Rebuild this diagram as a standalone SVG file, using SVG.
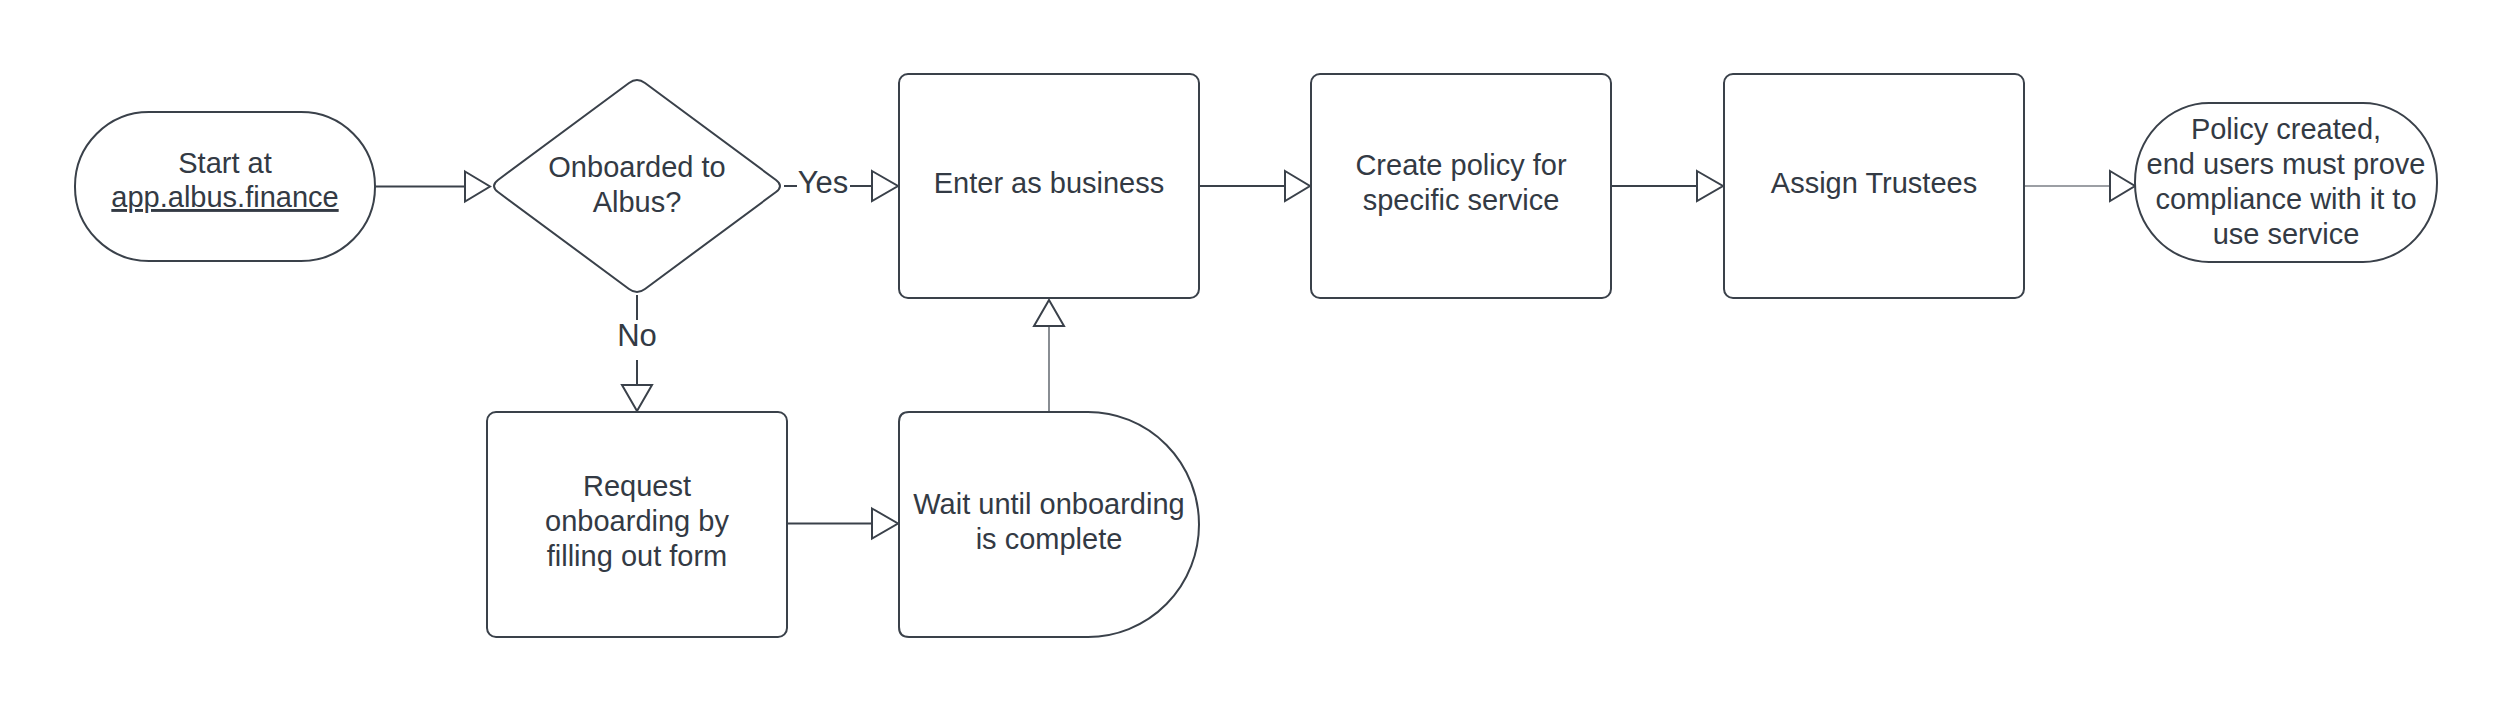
<svg xmlns="http://www.w3.org/2000/svg" width="2513" height="713" viewBox="0 0 2513 713">
  <style>
    .node { fill: #ffffff; stroke: #3a414a; stroke-width: 2; }
    .t { font-family: "Liberation Sans", Arial, sans-serif; font-size: 29px; fill: #333a44; text-anchor: middle; }
    .lbl { font-family: "Liberation Sans", Arial, sans-serif; font-size: 31px; fill: #333a44; text-anchor: middle; }
    .c { fill: none; stroke: #3a414a; stroke-width: 2; }
    .thin { fill: none; stroke: #3a414a; stroke-width: 1.2; }
    .ah { fill: #ffffff; stroke: #3a414a; stroke-width: 2; stroke-linejoin: miter; }
  </style>
  <rect width="2513" height="713" fill="#ffffff"/>

  <g id="connectors">
    <!-- start -> decision -->
    <line class="c" x1="375" y1="186.5" x2="465" y2="186.5"/>
    <polygon class="ah" points="465,171.5 490,186.5 465,201.5"/>
    <!-- decision -> enter (Yes) -->
    <line class="c" x1="784" y1="186" x2="797" y2="186"/>
    <text class="lbl" x="823" y="193">Yes</text>
    <line class="c" x1="850" y1="186" x2="872" y2="186"/>
    <polygon class="ah" points="872,171 898,186 872,201"/>
    <!-- decision -> request (No) -->
    <line class="c" x1="637" y1="295" x2="637" y2="320"/>
    <text class="lbl" x="637" y="346">No</text>
    <line class="c" x1="637" y1="360" x2="637" y2="385"/>
    <polygon class="ah" points="622,385 637,411 652,385"/>
    <!-- request -> wait -->
    <line class="c" x1="787" y1="523.5" x2="872" y2="523.5"/>
    <polygon class="ah" points="872,508.5 898,523.5 872,538.5"/>
    <!-- wait -> enter -->
    <line class="thin" x1="1049" y1="412" x2="1049" y2="326"/>
    <polygon class="ah" points="1034,326 1049,300 1064,326"/>
    <!-- enter -> create -->
    <line class="c" x1="1199" y1="186" x2="1285" y2="186"/>
    <polygon class="ah" points="1285,171 1310,186 1285,201"/>
    <!-- create -> assign -->
    <line class="c" x1="1611" y1="186" x2="1697" y2="186"/>
    <polygon class="ah" points="1697,171 1723,186 1697,201"/>
    <!-- assign -> end -->
    <line class="thin" x1="2024" y1="186" x2="2110" y2="186"/>
    <polygon class="ah" points="2110,171 2135,186 2110,201"/>
  </g>

  <g id="start">
    <rect class="node" x="75" y="112" width="300" height="149" rx="74" ry="74"/>
    <text class="t" x="225" y="173">Start at</text>
    <text class="t" x="225" y="207" text-decoration="underline">app.albus.finance</text>
  </g>

  <g id="decision">
    <path class="node" d="M 498,180 L 629,83 Q 637,77 645,83 L 776,180 Q 784,186 776,192 L 645,289 Q 637,295 629,289 L 498,192 Q 490,186 498,180 Z"/>
    <text class="t" x="637" y="177">Onboarded to</text>
    <text class="t" x="637" y="212">Albus?</text>
  </g>

  <g id="enter">
    <rect class="node" x="899" y="74" width="300" height="224" rx="9"/>
    <text class="t" x="1049" y="193">Enter as business</text>
  </g>

  <g id="create">
    <rect class="node" x="1311" y="74" width="300" height="224" rx="9"/>
    <text class="t" x="1461" y="175">Create policy for</text>
    <text class="t" x="1461" y="210">specific service</text>
  </g>

  <g id="assign">
    <rect class="node" x="1724" y="74" width="300" height="224" rx="9"/>
    <text class="t" x="1874" y="193">Assign Trustees</text>
  </g>

  <g id="end">
    <rect class="node" x="2135" y="103" width="302" height="159" rx="74" ry="79"/>
    <text class="t" x="2286" y="139">Policy created,</text>
    <text class="t" x="2286" y="174">end users must prove</text>
    <text class="t" x="2286" y="209">compliance with it to</text>
    <text class="t" x="2286" y="244">use service</text>
  </g>

  <g id="request">
    <rect class="node" x="487" y="412" width="300" height="225" rx="9"/>
    <text class="t" x="637" y="496">Request</text>
    <text class="t" x="637" y="531">onboarding by</text>
    <text class="t" x="637" y="566">filling out form</text>
  </g>

  <g id="wait">
    <path class="node" d="M 909,412 H 1088 A 111 112.5 0 0 1 1088,637 H 909 Q 899,637 899,627 V 422 Q 899,412 909,412 Z"/>
    <text class="t" x="1049" y="514">Wait until onboarding</text>
    <text class="t" x="1049" y="549">is complete</text>
  </g>
</svg>
